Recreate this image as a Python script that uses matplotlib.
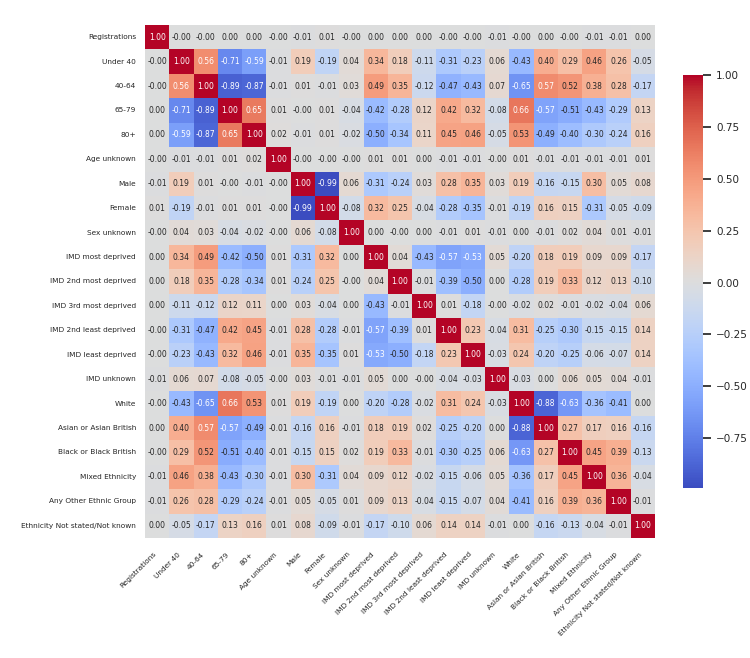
import numpy as np
import pandas as pd
import matplotlib
matplotlib.use("Agg")
import matplotlib.pyplot as plt
import seaborn as sns

labels = ["Registrations", "Under 40", "40-64", "65-79", "80+", "Age unknown",
          "Male", "Female", "Sex unknown", "IMD most deprived",
          "IMD 2nd most deprived", "IMD 3rd most deprived",
          "IMD 2nd least deprived", "IMD least deprived", "IMD unknown",
          "White", "Asian or Asian British", "Black or Black British",
          "Mixed Ethnicity", "Any Other Ethnic Group",
          "Ethnicity Not stated/Not known"]

# -0.001 stands for the cells printed as "-0.00"
z = -0.001
corr_rows = [
    [1.00, z, z, 0.00, 0.00, z, -0.01, 0.01, z, 0.00, 0.00, 0.00, z, z, -0.01, z, 0.00, z, -0.01, -0.01, 0.00],
    [z, 1.00, 0.56, -0.71, -0.59, -0.01, 0.19, -0.19, 0.04, 0.34, 0.18, -0.11, -0.31, -0.23, 0.06, -0.43, 0.40, 0.29, 0.46, 0.26, -0.05],
    [z, 0.56, 1.00, -0.89, -0.87, -0.01, 0.01, -0.01, 0.03, 0.49, 0.35, -0.12, -0.47, -0.43, 0.07, -0.65, 0.57, 0.52, 0.38, 0.28, -0.17],
    [0.00, -0.71, -0.89, 1.00, 0.65, 0.01, z, 0.01, -0.04, -0.42, -0.28, 0.12, 0.42, 0.32, -0.08, 0.66, -0.57, -0.51, -0.43, -0.29, 0.13],
    [0.00, -0.59, -0.87, 0.65, 1.00, 0.02, -0.01, 0.01, -0.02, -0.50, -0.34, 0.11, 0.45, 0.46, -0.05, 0.53, -0.49, -0.40, -0.30, -0.24, 0.16],
    [z, -0.01, -0.01, 0.01, 0.02, 1.00, z, z, z, 0.01, 0.01, 0.00, -0.01, -0.01, z, 0.01, -0.01, -0.01, -0.01, -0.01, 0.01],
    [-0.01, 0.19, 0.01, z, -0.01, z, 1.00, -0.99, 0.06, -0.31, -0.24, 0.03, 0.28, 0.35, 0.03, 0.19, -0.16, -0.15, 0.30, 0.05, 0.08],
    [0.01, -0.19, -0.01, 0.01, 0.01, z, -0.99, 1.00, -0.08, 0.32, 0.25, -0.04, -0.28, -0.35, -0.01, -0.19, 0.16, 0.15, -0.31, -0.05, -0.09],
    [z, 0.04, 0.03, -0.04, -0.02, z, 0.06, -0.08, 1.00, 0.00, z, 0.00, -0.01, 0.01, -0.01, 0.00, -0.01, 0.02, 0.04, 0.01, -0.01],
    [0.00, 0.34, 0.49, -0.42, -0.50, 0.01, -0.31, 0.32, 0.00, 1.00, 0.04, -0.43, -0.57, -0.53, 0.05, -0.20, 0.18, 0.19, 0.09, 0.09, -0.17],
    [0.00, 0.18, 0.35, -0.28, -0.34, 0.01, -0.24, 0.25, z, 0.04, 1.00, -0.01, -0.39, -0.50, 0.00, -0.28, 0.19, 0.33, 0.12, 0.13, -0.10],
    [0.00, -0.11, -0.12, 0.12, 0.11, 0.00, 0.03, -0.04, 0.00, -0.43, -0.01, 1.00, 0.01, -0.18, z, -0.02, 0.02, -0.01, -0.02, -0.04, 0.06],
    [z, -0.31, -0.47, 0.42, 0.45, -0.01, 0.28, -0.28, -0.01, -0.57, -0.39, 0.01, 1.00, 0.23, -0.04, 0.31, -0.25, -0.30, -0.15, -0.15, 0.14],
    [z, -0.23, -0.43, 0.32, 0.46, -0.01, 0.35, -0.35, 0.01, -0.53, -0.50, -0.18, 0.23, 1.00, -0.03, 0.24, -0.20, -0.25, -0.06, -0.07, 0.14],
    [-0.01, 0.06, 0.07, -0.08, -0.05, z, 0.03, -0.01, -0.01, 0.05, 0.00, z, -0.04, -0.03, 1.00, -0.03, 0.00, 0.06, 0.05, 0.04, -0.01],
    [z, -0.43, -0.65, 0.66, 0.53, 0.01, 0.19, -0.19, 0.00, -0.20, -0.28, -0.02, 0.31, 0.24, -0.03, 1.00, -0.88, -0.63, -0.36, -0.41, 0.00],
    [0.00, 0.40, 0.57, -0.57, -0.49, -0.01, -0.16, 0.16, -0.01, 0.18, 0.19, 0.02, -0.25, -0.20, 0.00, -0.88, 1.00, 0.27, 0.17, 0.16, -0.16],
    [z, 0.29, 0.52, -0.51, -0.40, -0.01, -0.15, 0.15, 0.02, 0.19, 0.33, -0.01, -0.30, -0.25, 0.06, -0.63, 0.27, 1.00, 0.45, 0.39, -0.13],
    [-0.01, 0.46, 0.38, -0.43, -0.30, -0.01, 0.30, -0.31, 0.04, 0.09, 0.12, -0.02, -0.15, -0.06, 0.05, -0.36, 0.17, 0.45, 1.00, 0.36, -0.04],
    [-0.01, 0.26, 0.28, -0.29, -0.24, -0.01, 0.05, -0.05, 0.01, 0.09, 0.13, -0.04, -0.15, -0.07, 0.04, -0.41, 0.16, 0.39, 0.36, 1.00, -0.01],
    [0.00, -0.05, -0.17, 0.13, 0.16, 0.01, 0.08, -0.09, -0.01, -0.17, -0.10, 0.06, 0.14, 0.14, -0.01, 0.00, -0.16, -0.13, -0.04, -0.01, 1.00],
]

corr = pd.DataFrame(np.array(corr_rows), index=labels, columns=labels)

sns.set_theme(style="white")
plt.rcParams['font.family'] = ['DejaVu Sans']

fig = plt.figure(figsize=(7.5, 6.58), dpi=100)
ax = fig.add_axes([145/750, 1-538/658, 510/750, 513/658])
cax = fig.add_axes([683/750, 1-488/658, 20/750, 413/658])

sns.heatmap(corr, ax=ax, cbar_ax=cax, cmap="coolwarm", annot=True, fmt=".2f",
            annot_kws={"size": 5.5})

ax.set_xticklabels(labels, rotation=45, ha="right", fontsize=5.3)
ax.set_yticklabels(labels, rotation=0, fontsize=5.3)
ax.tick_params(axis="y", length=0, pad=6.5)
cax.tick_params(labelsize=7.5)

fig.savefig("out.png", dpi=100)
